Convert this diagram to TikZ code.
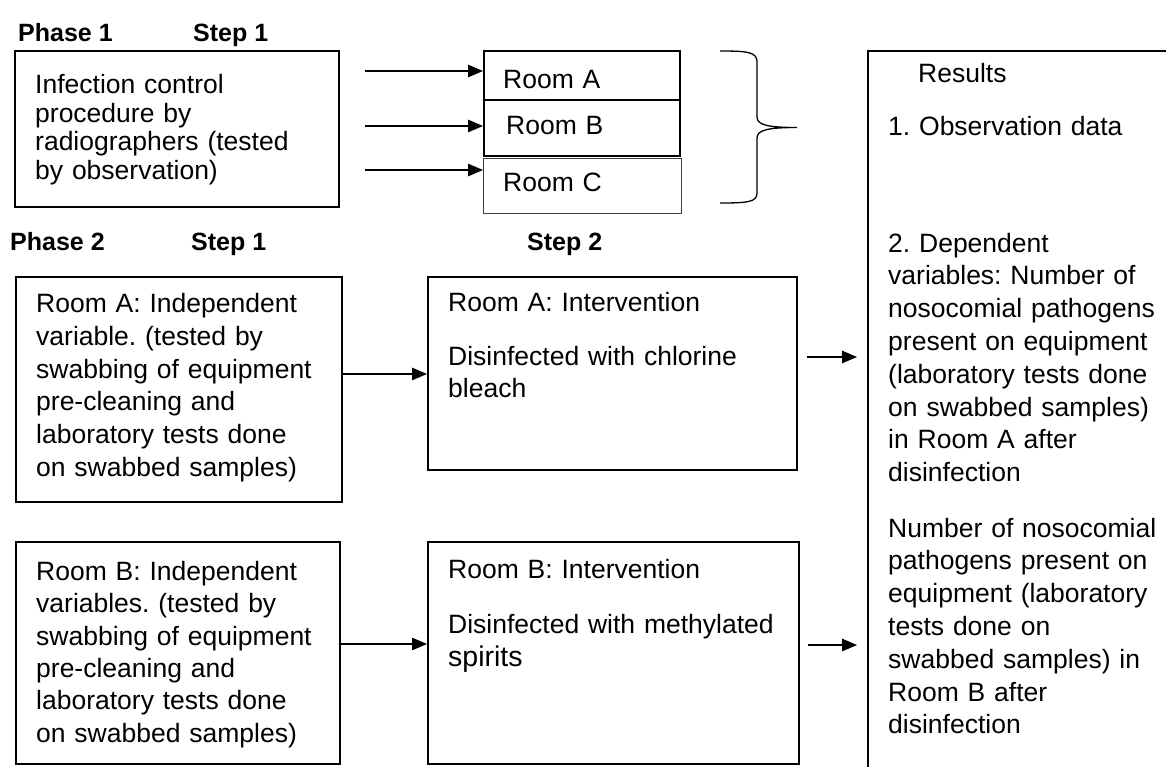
\documentclass[tikz,border=0pt]{standalone}
\usepackage{fontspec}
\setmainfont{Liberation Sans}
\usetikzlibrary{arrows.meta}
\frenchspacing
\begin{document}
\begin{tikzpicture}[x=1pt,y=-1pt,
  box/.style={draw, line width=1.8pt, inner sep=0pt, anchor=north west},
  lbl/.style={anchor=base west, inner sep=0pt, font=\fontsize{25}{30}\selectfont\bfseries},
  txt/.style={anchor=base west, inner sep=0pt, align=left, text width=360pt, font=\fontsize{26.5}{32.8}\selectfont\frenchspacing},
  tight/.style={font=\fontsize{26.5}{28.5}\selectfont\frenchspacing},
  arr/.style={line width=1.2pt, -{Triangle[length=15pt,width=12.5pt]}}
]
\useasboundingbox (0,0) rectangle (1166,766);

% ---------- Phase 1 ----------
\node[lbl] (ph1) at (18,41) {Phase 1};
\node[lbl] (st1a) at (193,41) {Step 1};
\node[box, minimum width=324pt, minimum height=156pt] (p1box) at (14,50) {};
\node[txt, tight] (p1txt) at (35,93.5) {Infection control\\procedure by\\radiographers (tested\\by observation)};

\node[box, minimum width=196pt, minimum height=49pt] (rA) at (483,50) {};
\node[box, minimum width=196pt, minimum height=56pt] (rB) at (483,99) {};
\node[box, line width=1.3pt, draw=black!75, minimum width=198pt, minimum height=55pt] (rC) at (483,158) {};
\node[txt] (rAt) at (503,88) {Room A};
\node[txt] (rBt) at (506,134.5) {Room B};
\node[txt] (rCt) at (503,191) {Room C};

\coordinate (s1) at (365,71);
\coordinate (s2) at (365,126);
\coordinate (s3) at (365,170);
\draw[arr] (s1) -- (rA.west |- s1);
\draw[arr] (s2) -- (rB.west |- s2);
\draw[arr] (s3) -- (rC.west |- s3);

% brace
\draw[line width=1.3pt] (720,51) .. controls (748,51) and (757,52) .. (757,62)
  -- (757,117) .. controls (757,125) and (768,127.5) .. (797,127.5)
  .. controls (768,127.5) and (757,130) .. (757,138)
  -- (757,193) .. controls (757,202) and (748,203) .. (720,203);

% ---------- Results ----------
\begin{scope}
\clip (0,0) rectangle (1166,766);
\node[box, minimum width=330pt, minimum height=760pt] (res) at (867,50) {};
\end{scope}
\node[txt] (resT) at (918,82) {Results};
\node[txt] (res1) at (888,135.5) {1. Observation data};
\node[txt] (res2) at (888,252) {2. Dependent\\variables: Number of\\nosocomial pathogens\\present on equipment\\(laboratory tests done\\on swabbed samples)\\in Room A after\\disinfection};
\node[txt] (res3) at (888,537) {Number of nosocomial\\pathogens present on\\equipment (laboratory\\tests done on\\swabbed samples) in\\Room B after\\disinfection};

% ---------- Phase 2 ----------
\node[lbl] (ph2) at (10,250.5) {Phase 2};
\node[lbl] (st1b) at (191,250.5) {Step 1};
\node[lbl] (st2) at (527,250.5) {Step 2};

\node[box, minimum width=326pt, minimum height=225pt] (indA) at (15,276) {};
\node[txt] (indAt) at (36,312.5) {Room A: Independent\\variable. (tested by\\swabbing of equipment\\pre-cleaning and\\laboratory tests done\\on swabbed samples)};
\node[box, minimum width=369pt, minimum height=193pt] (intA) at (427,276) {};
\node[txt] (intAh) at (448,311.5) {Room A: Intervention};
\node[txt, font=\fontsize{26.5}{31.5}\selectfont] (intAt) at (448,365.5) {Disinfected with chlorine\\bleach};

\node[box, minimum width=324pt, minimum height=222pt] (indB) at (15,541) {};
\node[txt, font=\fontsize{26.5}{32.3}\selectfont\frenchspacing] (indBt) at (36,580.5) {Room B: Independent\\variables. (tested by\\swabbing of equipment\\pre-cleaning and\\laboratory tests done\\on swabbed samples)};
\node[box, minimum width=371pt, minimum height=222pt] (intB) at (427,541) {};
\node[txt] (intBh) at (448,578.5) {Room B: Intervention};
\node[txt] (intBt) at (448,633.5) {Disinfected with methylated};
\node[txt, font=\fontsize{28.5}{32}\selectfont] (intBs) at (448,666) {spirits};

\coordinate (yA) at (0,374);
\coordinate (yB) at (0,644);
\draw[arr] (indA.east |- yA) -- (intA.west |- yA);
\draw[arr] (indB.east |- yB) -- (intB.west |- yB);

\coordinate (rA1) at (807,357);
\coordinate (rA2) at (857,357);
\coordinate (rB1) at (808,645);
\coordinate (rB2) at (857,645);
\draw[arr] (rA1) -- (rA2);
\draw[arr] (rB1) -- (rB2);
\end{tikzpicture}
\end{document}
